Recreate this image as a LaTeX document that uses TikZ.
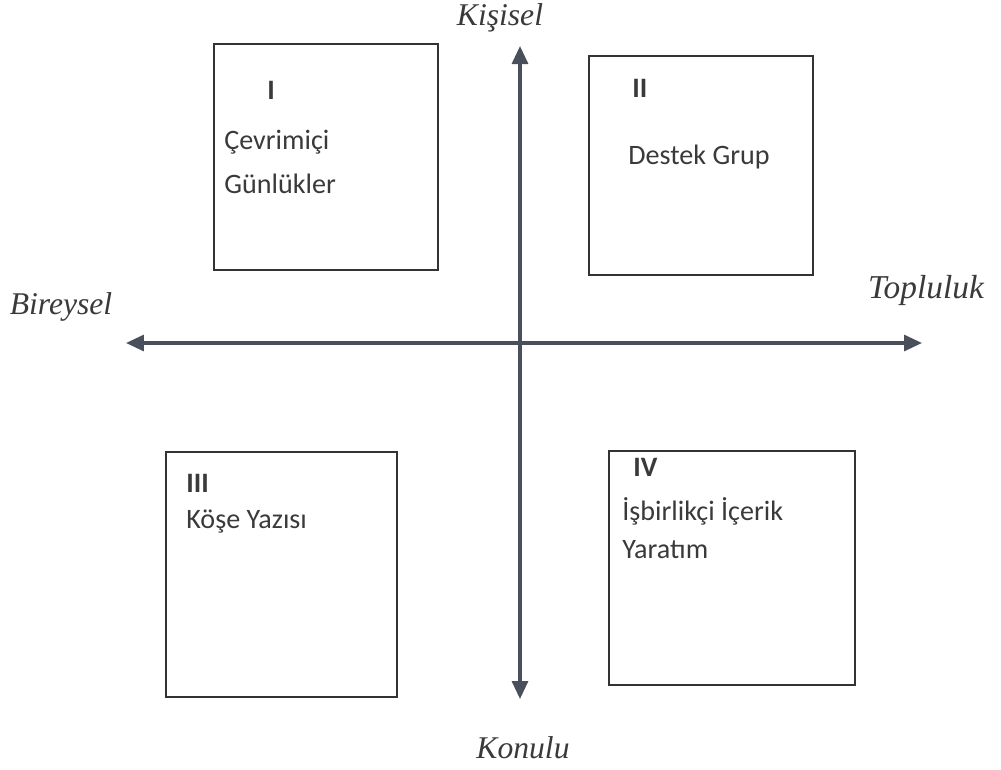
\documentclass[tikz,border=0pt]{standalone}
\usepackage{fontspec}
\setmainfont{Liberation Serif}
\newfontfamily\boxfont{Carlito}
\usetikzlibrary{arrows.meta}

\definecolor{axisgray}{HTML}{4A4F5C}
\definecolor{textgray}{HTML}{3A3A3A}

\tikzset{
  axislabel/.style={font=\itshape\fontsize{18}{20}\selectfont, text=textgray},
  boxtext/.style={anchor=west, inner sep=0pt, font=\boxfont\fontsize{16}{18}\selectfont, text=textgray},
  numeral/.style={boxtext, font=\boxfont\bfseries\fontsize{16}{18}\selectfont},
  axis/.style={line width=1.8pt, draw=axisgray, {Triangle[length=3.6mm,width=3.2mm]}-{Triangle[length=3.6mm,width=3.2mm]}},
  quad/.style={draw=black!80, line width=0.6pt}
}

\begin{document}
\begin{tikzpicture}[x=0.02cm, y=-0.02cm]
        \useasboundingbox (0, 0) rectangle (1001, 769);

        \node[axislabel] (kisisel) at (500, 18) {Kişisel};
        \node[axislabel] (konulu) at (523, 748) {Konulu};
        \node[axislabel] (bireysel) at (61, 307) {Bireysel};
        \node[axislabel, font=\itshape\fontsize{19}{20}\selectfont] (topluluk) at (926, 290) {Topluluk};

        \coordinate (top) at (520, 46);
        \coordinate (bottom) at (520, 699);
        \coordinate (left) at (126, 343);
        \coordinate (right) at (922, 343);

        \draw[quad] (214, 44) rectangle (438, 270);
        \draw[quad] (589, 56) rectangle (813, 275);
        \draw[quad] (166, 452) rectangle (397, 697);
        \draw[quad] (609, 451) rectangle (855, 685);

        \node[numeral] (one) at (267, 90) {I};
        \node[boxtext] (gunluk1) at (224, 142) {Çevrimiçi};
        \node[boxtext] (gunluk2) at (224, 184) {Günlükler};

        \node[numeral] (two) at (632, 88) {II};
        \node[boxtext] (destek) at (628, 157) {Destek Grup};

        \node[numeral] (three) at (186, 483) {III};
        \node[boxtext] (kose) at (186, 522) {Köşe Yazısı};

        \node[numeral] (four) at (633, 467) {IV};
        \node[boxtext] (isbirlik) at (622, 511) {İşbirlikçi İçerik};
        \node[boxtext] (yaratim) at (622, 550) {Yaratım};

        \draw[axis] (bottom) -- (top);
        \draw[axis] (left) -- (right);
      \end{tikzpicture}
\end{document}
